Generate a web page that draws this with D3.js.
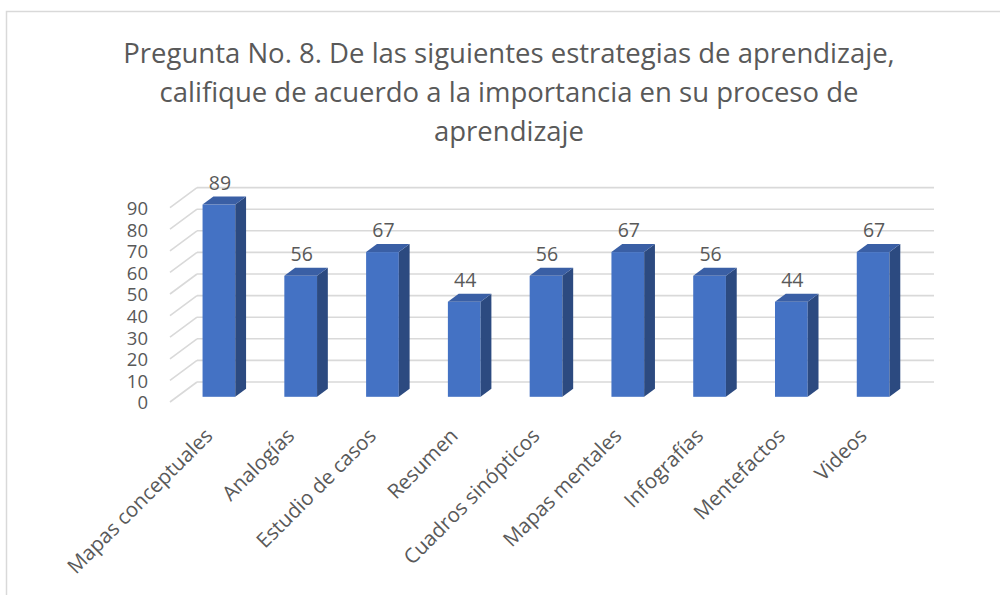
<!DOCTYPE html>
<html>
<head>
<meta charset="utf-8">
<script src="https://cdn.jsdelivr.net/npm/d3@7"></script>
<style>
  body { margin: 0; background: #fff; }
  text { font-family: "Open Sans", sans-serif; fill: #595959; }
</style>
</head>
<body>
<svg width="1000" height="595"></svg>
<script>
var categories = ["Mapas conceptuales", "Analogías", "Estudio de casos", "Resumen",
  "Cuadros sinópticos", "Mapas mentales", "Infografías", "Mentefactos", "Videos"];
var values = [89, 56, 67, 44, 56, 67, 56, 44, 67];
var yTicks = [0, 10, 20, 30, 40, 50, 60, 70, 80, 90];
var titleLines = ["Pregunta No. 8. De las siguientes estrategias de aprendizaje,",
  "califique de acuerdo a la importancia en su proceso de",
  "aprendizaje"];

var svg = d3.select("svg");

// depth of the 3d box and where the bars sit inside it
var depthX = 27, depthY = -20;
var barFront = 0.26, barBack = 0.66;

var x = d3.scaleBand()
    .domain(categories)
    .range([171, 907])
    .paddingInner(0.6)
    .paddingOuter(0.3);

var y = d3.scaleLinear()
    .domain([0, 90])
    .range([402, 207.6]);

// chart border
svg.append("rect")
    .attr("x", 6.5).attr("y", 11.5)
    .attr("width", 1010).attr("height", 600)
    .attr("fill", "none")
    .attr("stroke", "#D9D9D9")
    .attr("stroke-width", 1.5);

// title
svg.append("text")
    .attr("text-anchor", "middle")
    .attr("font-size", 27.5)
    .selectAll("tspan")
    .data(titleLines)
    .enter().append("tspan")
      .attr("x", 509)
      .attr("y", function(d, i) { return 63 + i * 39; })
      .text(function(d) { return d; });

// gridlines: back wall + left diagonals
var grid = svg.append("g")
    .attr("stroke", "#D9D9D9")
    .attr("stroke-width", 1.6)
    .attr("fill", "none");

grid.selectAll("line.back")
    .data(yTicks)
    .enter().append("line")
      .attr("class", "back")
      .attr("x1", x.range()[0] + depthX - 1)
      .attr("x2", 934)
      .attr("y1", function(d) { return y(d) + depthY; })
      .attr("y2", function(d) { return y(d) + depthY; });

grid.selectAll("line.side")
    .data(yTicks)
    .enter().append("line")
      .attr("class", "side")
      .attr("x1", x.range()[0] - 1)
      .attr("x2", x.range()[0] + depthX - 1)
      .attr("y1", function(d) { return y(d); })
      .attr("y2", function(d) { return y(d) + depthY; });

// y axis labels
svg.append("g")
    .selectAll("text")
    .data(yTicks)
    .enter().append("text")
      .attr("x", 148)
      .attr("y", function(d) { return y(d) + 1; })
      .attr("dy", "0.35em")
      .attr("text-anchor", "end")
      .attr("font-size", 18.5)
      .text(function(d) { return d; });

// bars
var bars = svg.append("g")
    .selectAll("g")
    .data(values)
    .enter().append("g");

function fx(i) { return x(categories[i]) + barFront * depthX; }
var bw = x.bandwidth();
var bdx = (barBack - barFront) * depthX, bdy = (barBack - barFront) * depthY;
var fdy = barFront * depthY;

// front face
bars.append("rect")
    .attr("x", function(d, i) { return fx(i); })
    .attr("y", function(d) { return y(d) + fdy; })
    .attr("width", bw)
    .attr("height", function(d) { return y(0) - y(d); })
    .attr("fill", "#4472C4");

// side face
bars.append("path")
    .attr("fill", "#2C4A80")
    .attr("d", function(d, i) {
      var x0 = fx(i) + bw, t = y(d) + fdy, b = y(0) + fdy;
      return "M" + x0 + "," + t + "L" + (x0 + bdx) + "," + (t + bdy) +
        "L" + (x0 + bdx) + "," + (b + bdy) + "L" + x0 + "," + b + "Z";
    });

// top face
bars.append("path")
    .attr("fill", "#3A5FA5")
    .attr("d", function(d, i) {
      var x0 = fx(i), t = y(d) + fdy;
      return "M" + x0 + "," + t + "L" + (x0 + bw) + "," + t +
        "L" + (x0 + bw + bdx) + "," + (t + bdy) + "L" + (x0 + bdx) + "," + (t + bdy) + "Z";
    });

// value labels
bars.append("text")
    .attr("x", function(d, i) { return fx(i) + bw / 2 + 1; })
    .attr("y", function(d) { return y(d) + fdy + bdy - 7; })
    .attr("text-anchor", "middle")
    .attr("font-size", 19.5)
    .attr("fill", "#404040")
    .text(function(d) { return d; });

// category labels
svg.append("g")
    .selectAll("text")
    .data(categories)
    .enter().append("text")
      .attr("text-anchor", "end")
      .attr("font-size", 20.5)
      .attr("transform", function(d) {
        var cx = x(d) + barFront * depthX + bw / 2 - 5;
        return "translate(" + cx + ",437) rotate(-45)";
      })
      .text(function(d) { return d; });
</script>
</body>
</html>
